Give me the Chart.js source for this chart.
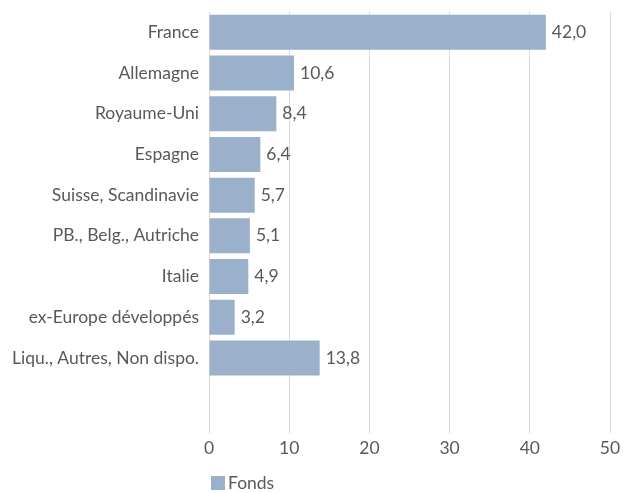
<!DOCTYPE html>
<html>
<head>
<meta charset="utf-8">
<script src="https://cdn.jsdelivr.net/npm/chart.js@4"></script>
<style>
  body { margin: 0; background: #fff; }
  #wrap { position: relative; width: 630px; height: 493px; }
  #legend { position: absolute; left: 211px; top: 472px; font: 17.5px Lato, sans-serif; color: #595959; display: flex; align-items: center; }
  #legend span.box { display: inline-block; width: 14px; height: 14px; background: #9BB0CB; margin-right: 3px; }
</style>
</head>
<body>
<div id="wrap">
  <canvas id="repartition" width="630" height="493"></canvas>
  <div id="legend"><span class="box"></span>Fonds</div>
</div>
<script>
const pays = ["France", "Allemagne", "Royaume-Uni", "Espagne", "Suisse, Scandinavie",
  "PB., Belg., Autriche", "Italie", "ex-Europe développés", "Liqu., Autres, Non dispo.", ""];
const fonds = [42.0, 10.6, 8.4, 6.4, 5.7, 5.1, 4.9, 3.2, 13.8, null];
const xTicks = [0, 10, 20, 30, 40, 50];

const grey = "#595959";
const police = { family: "Lato, sans-serif", size: 17.5 };

// valeurs au bout des barres
const valeurs = {
  id: "valeurs",
  afterDatasetsDraw(chart) {
    const ctx = chart.ctx;
    const meta = chart.getDatasetMeta(0);
    ctx.save();
    ctx.font = "17.5px Lato, sans-serif";
    ctx.fillStyle = grey;
    ctx.textBaseline = "middle";
    meta.data.forEach((bar, i) => {
      const v = fonds[i];
      if (v == null) return;
      ctx.fillText(v.toFixed(1).replace(".", ","), bar.x + 6, bar.y);
    });
    ctx.restore();
  },
};

new Chart(document.getElementById("repartition"), {
  type: "bar",
  data: {
    labels: pays,
    datasets: [
      {
        label: "Fonds",
        data: fonds,
        backgroundColor: "#9BB0CB",
        barPercentage: 0.86,
        categoryPercentage: 1,
      },
    ],
  },
  options: {
    indexAxis: "y",
    responsive: false,
    animation: false,
    layout: { padding: { top: 12, right: 20, bottom: 34, left: 0 } },
    plugins: {
      legend: { display: false },
      tooltip: { enabled: false },
    },
    scales: {
      x: {
        min: 0,
        max: 50,
        afterBuildTicks: (scale) => {
          scale.ticks = xTicks.map((v) => ({ value: v }));
        },
        afterFit: (scale) => {
          scale.height = 40;
        },
        grid: { color: "#D9D9D9", tickLength: 14, tickColor: "#D9D9D9" },
        border: { display: false },
        ticks: { color: grey, font: police, padding: 5 },
      },
      y: {
        afterFit: (scale) => {
          scale.width = 209;
          scale.paddingTop = 0;
          scale.paddingBottom = 0;
        },
        grid: { display: false, drawTicks: false },
        border: { display: false },
        ticks: { color: grey, font: police, padding: 10 },
      },
    },
  },
  plugins: [valeurs],
});
</script>
</body>
</html>
